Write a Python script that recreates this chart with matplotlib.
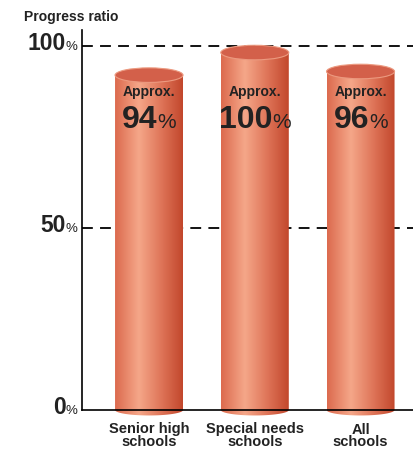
# Progress ratio cylinder bar chart
import numpy as np
import matplotlib.pyplot as plt
from matplotlib.path import Path
from matplotlib.patches import PathPatch, Ellipse
from matplotlib.colors import LinearSegmentedColormap
from matplotlib.offsetbox import TextArea, HPacker, AnnotationBbox

plt.rcParams['font.family'] = ['Liberation Sans', 'DejaVu Sans']

# data
categories = ['Senior high\nschools', 'Special needs\nschools', 'All\nschools']
heights = [92.0, 98.2, 93.0]          # drawn height of each cylinder (%)
label_nums = ['94', '100', '96']      # text printed inside the bars
y_ticks = [0, 50, 100]
y_tick_labels = ['0', '50', '100']

TXT = '#222222'
W = 0.643        # bar width in data units
B = 2.0          # half height of the ellipse caps in data units

fig = plt.figure(figsize=(4.13, 4.5), dpi=100)
ax = fig.add_axes([82/413, 40/450, 331/413, 380/450])

# horizontal gradient used for each cylinder body
grad = LinearSegmentedColormap.from_list(
   'cyl', [(0.0, '#dc6a4e'), (0.35, '#f5a789'), (0.7, '#dd7256'), (1.0, '#c2472c')])
strip = np.linspace(0, 1, 256).reshape(1, -1)

x = np.arange(len(categories))
bars = ax.bar(x, heights, width=W, color='none', edgecolor='none', zorder=2)

for rect in bars:
   x0 = rect.get_x()
   x1 = x0 + rect.get_width()
   xc = (x0 + x1) / 2
   h = rect.get_height()
   # body outline: rectangle plus lower half of the bottom ellipse
   t = np.linspace(0, -np.pi, 60)
   verts = [(x0, 0), (x0, h), (x1, h), (x1, 0)]
   verts += list(zip(xc + W/2*np.cos(t), 0.75*B*np.sin(t)))
   verts += [(x0, 0)]
   codes = [Path.MOVETO] + [Path.LINETO]*(len(verts)-2) + [Path.CLOSEPOLY]
   body = PathPatch(Path(verts, codes), facecolor='none', edgecolor='none',
                    transform=ax.transData)
   ax.add_patch(body)
   body.set_clip_on(False)
   im = ax.imshow(strip, cmap=grad, extent=(x0, x1, -B, h), aspect='auto',
                  interpolation='bilinear', zorder=2)
   im.set_clip_box(fig.bbox)
   im.set_clip_path(body)
   # top cap
   cap = Ellipse((xc, h), W, 2*B, facecolor='#d3604a', edgecolor='#ec9a80',
                 linewidth=0.8, zorder=3)
   ax.add_patch(cap)

# dashed reference lines
for v in [50, 100]:
   ax.axhline(v, color='black', linewidth=1.3, linestyle=(0, (6, 4)), zorder=1)

# labels inside the bars
for xi, h, num in zip(x, heights, label_nums):
   ax.text(xi, 87.5, 'Approx.', ha='center', va='center', fontsize=10,
           fontweight='bold', color=TXT, zorder=4)
   box = HPacker(children=[TextArea(num, textprops=dict(fontsize=23, fontweight='bold', color=TXT)),
                           TextArea('%', textprops=dict(fontsize=15, color=TXT))],
                 align='baseline', pad=0, sep=0)
   ab = AnnotationBbox(box, (xi, 79.8), frameon=False, box_alignment=(0.5, 0.5),
                       zorder=4)
   ax.add_artist(ab)

# y tick labels with a small percent sign
for v, lab in zip(y_ticks, y_tick_labels):
   box = HPacker(children=[TextArea(lab, textprops=dict(fontsize=16.5, fontweight='bold', color=TXT)),
                           TextArea('%', textprops=dict(fontsize=9.5, color=TXT))],
                 align='baseline', pad=0, sep=0)
   ab = AnnotationBbox(box, (0, v), xycoords=('axes fraction', 'data'),
                       xybox=(-3, 0), boxcoords='offset points',
                       frameon=False, box_alignment=(1, 0.4))
   ab.set_clip_on(False)
   ax.add_artist(ab)

ax.set_xlim(-0.634, 2.496)
ax.set_ylim(0, 104.4)
ax.set_yticks(y_ticks)
ax.set_yticklabels([])
ax.tick_params(axis='y', length=0)
ax.set_xticks(x)
ax.set_xticklabels(categories, fontsize=10.5, fontweight='bold', color=TXT,
                   linespacing=0.9)
ax.tick_params(axis='x', length=0, pad=9)

for s in ['top', 'right']:
   ax.spines[s].set_visible(False)
ax.spines['left'].set_linewidth(1.2)
ax.spines['bottom'].set_linewidth(1.2)

fig.text(24/413, 1 - 17/450, 'Progress ratio', ha='left', va='center',
         fontsize=10, fontweight='bold', color=TXT)

fig.savefig('out.png', dpi=100)
